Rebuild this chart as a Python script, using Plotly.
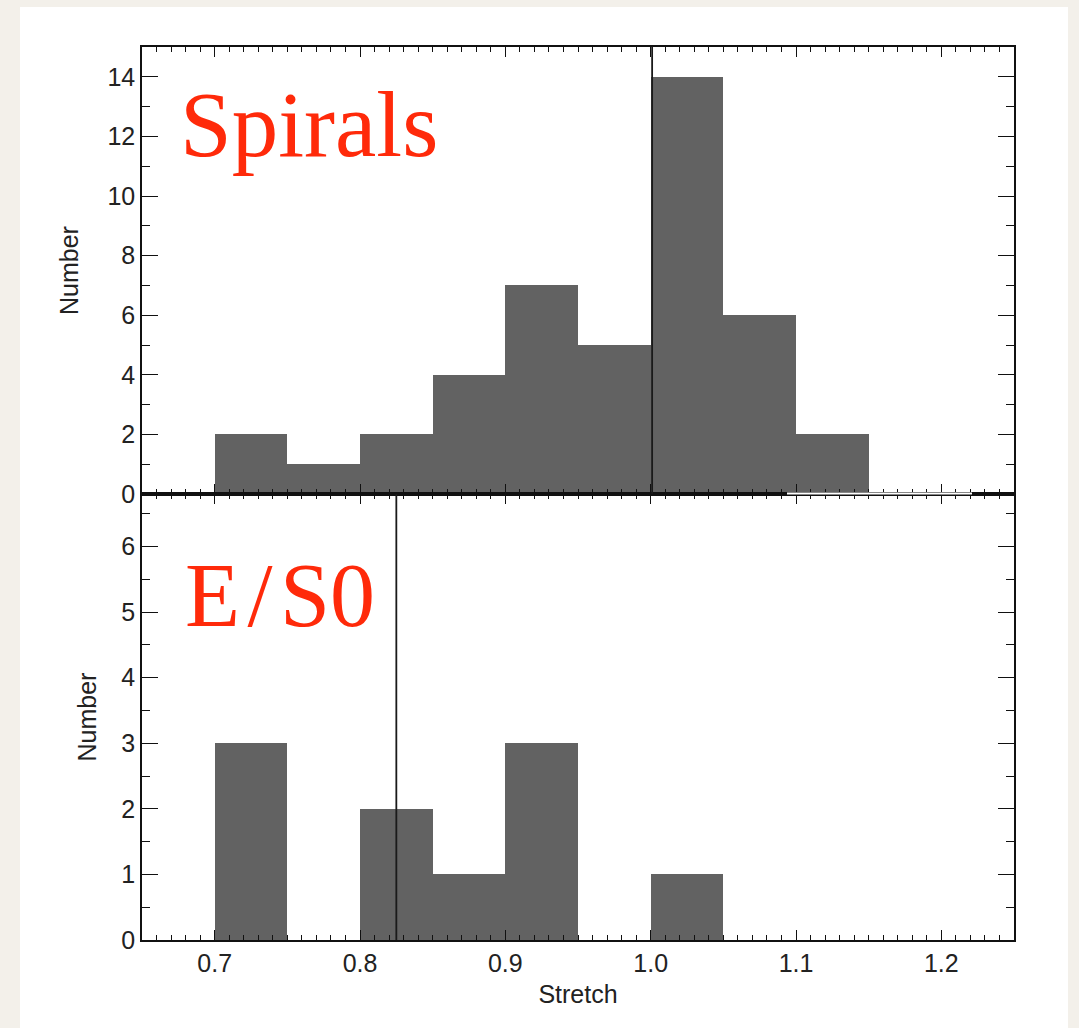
import plotly.graph_objects as go
from plotly.subplots import make_subplots

# ---- data ----
bin_left = [0.70, 0.75, 0.80, 0.85, 0.90, 0.95, 1.00, 1.05, 1.10]
bin_width = 0.05
spirals_counts = [2, 1, 2, 4, 7, 5, 14, 6, 2]
es0_counts = [3, 0, 2, 1, 3, 0, 1, 0, 0]
spirals_median = 1.001
es0_median = 0.825
x_ticks = [0.7, 0.8, 0.9, 1.0, 1.1, 1.2]

W, H = 1079, 1028
L, R, T, B = 142, 1014, 47, 940
MID = 494

bar_color = "#626262"
centers = [b + bin_width / 2 for b in bin_left]

fig = make_subplots(rows=2, cols=1, shared_xaxes=True, vertical_spacing=0,
                    row_heights=[(MID - T) / (B - T), (B - MID) / (B - T)])

fig.add_trace(go.Bar(x=centers, y=spirals_counts, width=bin_width,
                     marker=dict(color=bar_color, line=dict(width=0)),
                     showlegend=False), row=1, col=1)
fig.add_trace(go.Bar(x=centers, y=es0_counts, width=bin_width,
                     marker=dict(color=bar_color, line=dict(width=0)),
                     showlegend=False), row=2, col=1)

font_sans = "Liberation Sans, Arial, Helvetica, sans-serif"
FS = 25
axis_common = dict(showline=True, linecolor="#111", linewidth=1.6, mirror="ticks",
                   ticks="inside", tickcolor="#111", tickwidth=1.4, showgrid=False,
                   zeroline=False, tickfont=dict(family=font_sans, size=FS, color="#222"))

xr = [0.65, 1.25]
fig.update_xaxes(range=xr, tickvals=x_ticks, tickformat=".1f", ticklen=10,
                 minor=dict(dtick=0.01, ticks="inside", ticklen=5, tickcolor="#111", tickwidth=1.2, showgrid=False),
                 **axis_common)
fig.update_xaxes(showticklabels=False, row=1, col=1)
fig.update_xaxes(title=dict(text="Stretch", font=dict(family=font_sans, size=FS, color="#222"), standoff=10),
                 row=2, col=1)

fig.update_yaxes(range=[0, 15], dtick=2, tick0=0, ticklen=16,
                 minor=dict(dtick=1, ticks="inside", ticklen=8, tickcolor="#111", tickwidth=1.2, showgrid=False),
                 title=dict(text="Number", font=dict(family=font_sans, size=FS, color="#222"), standoff=22),
                 row=1, col=1, **axis_common)
fig.update_yaxes(range=[0, 6.8], dtick=1, tick0=0, ticklen=16,
                 minor=dict(dtick=0.5, ticks="inside", ticklen=8, tickcolor="#111", tickwidth=1.2, showgrid=False),
                 title=dict(text="Number", font=dict(family=font_sans, size=FS, color="#222"), standoff=18),
                 row=2, col=1, **axis_common)

def px_x(p):
    return (p - L) / (R - L)

def px_y(p):
    return (B - p) / (B - T)

shapes = [
    # white card
    dict(type="rect", xref="paper", yref="paper", x0=px_x(20), x1=px_x(1068),
         y0=px_y(1040), y1=px_y(7), fillcolor="white", line=dict(width=0), layer="below"),
    # median lines
    dict(type="line", xref="x", yref="y domain", x0=spirals_median, x1=spirals_median, y0=0, y1=1,
         line=dict(color="#1a1a1a", width=1.8), layer="above"),
    dict(type="line", xref="x2", yref="y2 domain", x0=es0_median, x1=es0_median, y0=0, y1=1,
         line=dict(color="#1a1a1a", width=1.8), layer="above"),
    # gap in the middle axis line seen in the original image
    dict(type="line", xref="paper", yref="paper", x0=px_x(787), x1=px_x(972),
         y0=px_y(MID - 0.5), y1=px_y(MID - 0.5), line=dict(color="white", width=2.2), layer="above"),
]

annotations = [
    dict(text="Spirals", xref="paper", yref="paper", x=px_x(178), y=px_y(71),
         xanchor="left", yanchor="top", showarrow=False,
         font=dict(family="Liberation Serif, Times New Roman, serif", size=93, color="#ff2a0a")),
    dict(text="E\u200a/\u200aS0", xref="paper", yref="paper", x=px_x(183), y=px_y(544),
         xanchor="left", yanchor="top", showarrow=False,
         font=dict(family="Liberation Serif, Times New Roman, serif", size=90, color="#ff2a0a")),
]

fig.update_layout(width=W, height=H, margin=dict(l=L, r=W - R, t=T, b=H - B),
                  paper_bgcolor="#f3f0ea", plot_bgcolor="white", bargap=0,
                  shapes=shapes, annotations=annotations, showlegend=False)

fig.write_html("out.html")
